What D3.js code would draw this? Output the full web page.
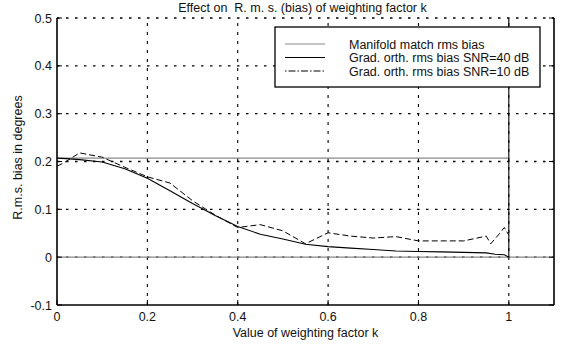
<!DOCTYPE html>
<html><head><meta charset="utf-8">
<script src="https://cdn.jsdelivr.net/npm/d3@7"></script>
<style>
body{margin:0;background:#fff;}
text{font-family:"Liberation Sans",Arial,Helvetica,sans-serif;fill:#111;white-space:pre;}
</style></head><body>
<svg id="c" width="563" height="347"></svg>
<script>
// ---- data ----
const titleText = "Effect on  R. m. s. (bias) of weighting factor k";
const xLabel = "Value of weighting factor k";
const yLabel = "R.m.s. bias in degrees";
const xTicks = [0, 0.2, 0.4, 0.6, 0.8, 1];
const xTickLabels = ["0", "0.2", "0.4", "0.6", "0.8", "1"];
const yTicks = [-0.1, 0, 0.1, 0.2, 0.3, 0.4, 0.5];
const yTickLabels = ["-0.1", "0", "0.1", "0.2", "0.3", "0.4", "0.5"];
const legendLabels = ["Manifold match rms bias", "Grad. orth. rms bias SNR=40 dB", "Grad. orth. rms bias SNR=10 dB"];

const manifoldK = [0, 1];
const manifoldBias = [0.207, 0.207];

const snr40K = [0, 0.02, 0.05, 0.1, 0.15, 0.2, 0.25, 0.3, 0.35, 0.4, 0.45, 0.5, 0.55, 0.6, 0.65, 0.7, 0.75, 0.8, 0.85, 0.9, 0.95, 0.97, 0.99, 1.0, 1.0];
const snr40Bias = [0.207, 0.206, 0.204, 0.199, 0.185, 0.165, 0.139, 0.112, 0.087, 0.064, 0.048, 0.038, 0.027, 0.022, 0.019, 0.016, 0.013, 0.012, 0.011, 0.010, 0.009, 0.006, 0.005, 0.0, 0.6];

const snr10K = [0, 0.02, 0.05, 0.1, 0.15, 0.2, 0.25, 0.3, 0.35, 0.4, 0.45, 0.5, 0.55, 0.6, 0.65, 0.7, 0.75, 0.8, 0.85, 0.9, 0.95, 0.96, 0.98, 0.99, 1.0];
const snr10Bias = [0.19, 0.2, 0.218, 0.209, 0.188, 0.168, 0.155, 0.118, 0.088, 0.062, 0.068, 0.055, 0.028, 0.051, 0.044, 0.04, 0.043, 0.034, 0.034, 0.034, 0.044, 0.028, 0.05, 0.062, 0.046];

const zeroLine = [0, 1.1];

// ---- layout ----
const svg = d3.select("#c");
const L = 57, R = 554, T = 18, B = 305;
const FS = 12.5;
const x = d3.scaleLinear().domain([0, 1.1]).range([L, R]);
const y = d3.scaleLinear().domain([-0.1, 0.5]).range([B, T]);

svg.append("defs").append("clipPath").attr("id","clip")
  .append("rect").attr("x", L).attr("y", T).attr("width", R - L).attr("height", B - T);

// grid
const grid = svg.append("g");
grid.selectAll(".vg").data(xTicks.filter(d => d > 0)).enter().append("line")
  .attr("x1", d => x(d)).attr("x2", d => x(d)).attr("y1", B).attr("y2", T)
  .attr("stroke", "#000").attr("stroke-width", 1.1).attr("stroke-dasharray", "3,6");
grid.selectAll(".hg").data(yTicks.filter(d => d > -0.1)).enter().append("line")
  .attr("x1", L).attr("x2", R).attr("y1", d => y(d)).attr("y2", d => y(d))
  .attr("stroke", "#000").attr("stroke-width", 1.3).attr("stroke-dasharray", "2.5,6.5");

const plot = svg.append("g").attr("clip-path", "url(#clip)");
const line = d3.line().x(d => x(d[0])).y(d => y(d[1]));

// zero reference line
plot.append("path").datum(zeroLine.map(k => [k, 0])).attr("d", line)
  .attr("fill", "none").attr("stroke", "#888").attr("stroke-width", 1.3);
// manifold
plot.append("path").datum(manifoldK.map((k, i) => [k, manifoldBias[i]])).attr("d", line)
  .attr("fill", "none").attr("stroke", "#888").attr("stroke-width", 1.3);
// 10 dB
plot.append("path").datum(snr10K.map((k, i) => [k, snr10Bias[i]])).attr("d", line)
  .attr("fill", "none").attr("stroke", "#000").attr("stroke-width", 1).attr("stroke-dasharray", "6,3");
// 40 dB
plot.append("path").datum(snr40K.map((k, i) => [k, snr40Bias[i]])).attr("d", line)
  .attr("fill", "none").attr("stroke", "#000").attr("stroke-width", 1.1);

// axes box
svg.append("line").attr("x1", L).attr("x2", L).attr("y1", T).attr("y2", B).attr("stroke", "#000").attr("stroke-width", 1.6);
svg.append("line").attr("x1", L).attr("x2", R).attr("y1", B).attr("y2", B).attr("stroke", "#000").attr("stroke-width", 1.6);
svg.append("line").attr("x1", R).attr("x2", R).attr("y1", T).attr("y2", B).attr("stroke", "#000").attr("stroke-width", 1.6);

// tick marks (inside)
svg.selectAll(".xt").data(xTicks).enter().append("line")
  .attr("x1", d => x(d)).attr("x2", d => x(d)).attr("y1", B).attr("y2", B - 5).attr("stroke", "#000");
svg.selectAll(".yt").data(yTicks).enter().append("line")
  .attr("x1", L).attr("x2", L + 5).attr("y1", d => y(d)).attr("y2", d => y(d)).attr("stroke", "#000");
svg.selectAll(".yt2").data(yTicks).enter().append("line")
  .attr("x1", R).attr("x2", R - 5).attr("y1", d => y(d)).attr("y2", d => y(d)).attr("stroke", "#000");

// tick labels
svg.selectAll(".xl").data(xTicks).enter().append("text")
  .attr("x", d => x(d)).attr("y", 321).attr("text-anchor", "middle").attr("font-size", FS).text((d, i) => xTickLabels[i]);
svg.selectAll(".yl").data(yTicks).enter().append("text")
  .attr("x", 52).attr("y", d => y(d) + 4.5).attr("text-anchor", "end").attr("font-size", FS).text((d, i) => yTickLabels[i]);

// titles
svg.append("text").attr("x", (L + R) / 2 - 3).attr("y", 12).attr("text-anchor", "middle").attr("font-size", FS).text(titleText);
svg.append("text").attr("x", (L + R) / 2).attr("y", 337).attr("text-anchor", "middle").attr("font-size", FS).text(xLabel);
svg.append("text").attr("transform", `translate(22,${(T + B) / 2 - 4}) rotate(-90)`).attr("text-anchor", "middle").attr("font-size", FS).text(yLabel);

// legend
const lg = svg.append("g");
lg.append("rect").attr("x", 275).attr("y", 27).attr("width", 265).attr("height", 60)
  .attr("fill", "#fff").attr("stroke", "#000").attr("stroke-width", 1.3);
const legStyles = [
  {stroke: "#888", dash: null},
  {stroke: "#000", dash: null},
  {stroke: "#000", dash: "1.5,2,7,2"}
];
legendLabels.forEach((t, i) => {
  const yy = 44 + i * 13.5;
  lg.append("line").attr("x1", 285).attr("x2", 325).attr("y1", yy).attr("y2", yy)
    .attr("stroke", legStyles[i].stroke).attr("stroke-width", 1.2)
    .attr("stroke-dasharray", legStyles[i].dash);
  lg.append("text").attr("x", 349).attr("y", yy + 4.5).attr("font-size", FS).text(t);
});
</script>
</body></html>
